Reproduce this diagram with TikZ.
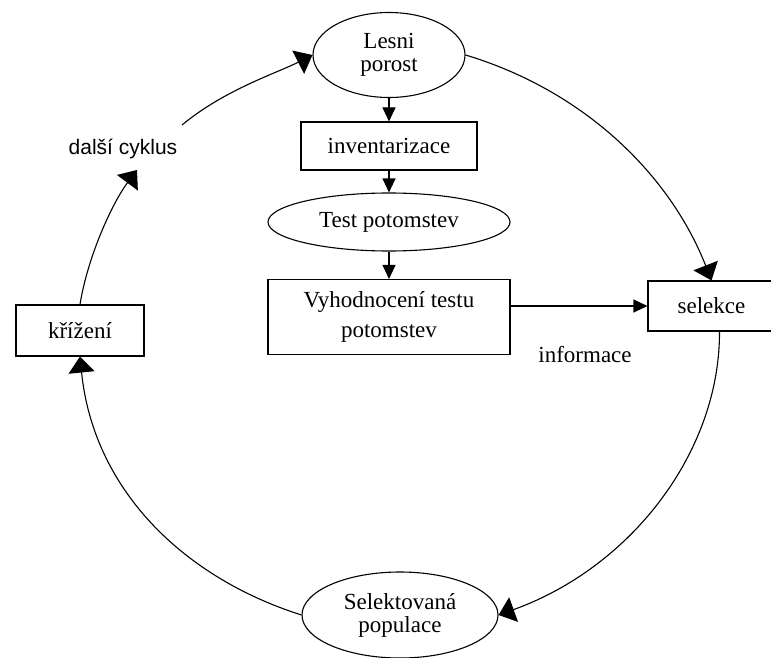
\documentclass[tikz,border=0pt]{standalone}
\usepackage{fontspec}
\setmainfont{Liberation Serif}
\newfontfamily\arialfont{Liberation Sans}
\usepackage{tikz}
\usetikzlibrary{arrows.meta}
\usetikzlibrary{shapes.geometric}

\begin{document}
\begin{tikzpicture}[x=1pt, y=-1pt, line width=1.1pt,
    box/.style={draw, rectangle, inner sep=0pt, align=center, font=\fontsize{23}{23}\selectfont},
    oval/.style={draw, ellipse, inner sep=0pt, align=center, font=\fontsize{23}{23}\selectfont},
    flow/.style={-{Triangle[width=13pt,length=14pt]}},
    loop/.style={-{Triangle[width=26pt,length=16pt]}}]

    \useasboundingbox (0,0) rectangle (771,658);

    % Middle column: inventory and progeny test
    \node[oval, minimum width=152pt, minimum height=85pt] (lesni) at (389,55) {Lesni\\porost};
    \node[box, minimum width=176pt, minimum height=48pt] (inv) at (389,146) {inventarizace};
    \node[oval, minimum width=242pt, minimum height=58pt] (test) at (389,222) {Test potomstev};
    \node[box, minimum width=242pt, minimum height=75pt] (vyh) at (389,317) {Vyhodnocení testu\\[7pt]potomstev};

    \draw[flow] (lesni) -- (inv);
    \draw[flow] (inv) -- (test);
    \draw[flow] (test) -- (vyh);

    % Cycle nodes
    \node[box, minimum width=127pt, minimum height=50pt] (sel) at (711.5,306) {selekce};
    \node[oval, minimum width=196pt, minimum height=86pt] (selpop) at (400,615) {Selektovaná\\populace};
    \node[box, minimum width=128pt, minimum height=51pt] (kriz) at (80,330.5) {křížení};

    \draw[flow] (vyh.east |- sel.west) -- (sel.west);
    \node[font=\fontsize{23}{23}\selectfont] (info) at (585,355) {informace};

    % Big loop
    \coordinate (cycA) at (137,170);
    \coordinate (cycB) at (182,125);
    \node[font=\arialfont\fontsize{21}{22}\selectfont] (cyklus) at (123,149) {další cyklus};

    \draw[loop] (lesni.east) .. controls (585,91) and (670,175) .. (sel.north);
    \draw[loop] ([xshift=8pt]sel.south) .. controls (720,451) and (632,567) .. (selpop.east);
    \draw[loop] (selpop.west) .. controls (179,576) and (93,486) .. (kriz.south);
    \draw[loop] (kriz.north) .. controls (88,255) and (113,202) .. (cycA);
    \draw[loop] (cycB) .. controls (224,90) and (277,73) .. (lesni.west);
\end{tikzpicture}
\end{document}
